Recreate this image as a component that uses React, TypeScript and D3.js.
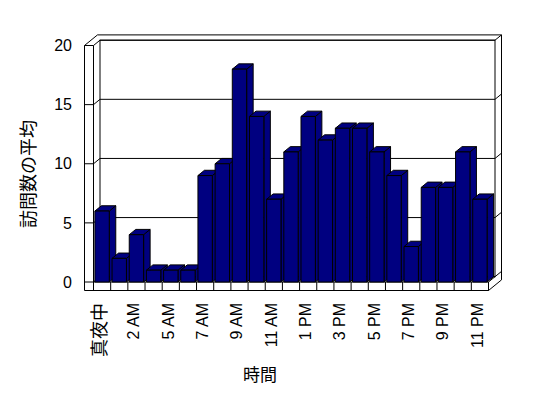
import React from "react";
import * as d3 from "d3";

const categories = ["真夜中","1 AM","2 AM","3 AM","5 AM","6 AM","7 AM","8 AM","9 AM","10 AM","11 AM","12 PM","1 PM","2 PM","3 PM","4 PM","5 PM","6 PM","7 PM","8 PM","9 PM","10 PM","11 PM"];
const values = [6,2,4,1,1,1,9,10,18,14,7,11,14,12,13,13,11,9,3,8,8,11,7];
const yTicks = [0,5,10,15,20];
const yTitle = "訪問数の平均";
const xTitle = "時間";

const W = 548, H = 398;
const L0 = 84.5, L1 = 93.5, R = 488.5;
const FB = 290.5;
const DX = 6.5, DY = -5.3;
const BAR_INSET = 1.4;
const NAVY = "#000080";
const LATIN = "'Liberation Sans', Arial, sans-serif";
const CJK = "'Noto Sans CJK JP', 'Noto Sans CJK SC', sans-serif";

export default function App() {
  const x = d3.scaleBand<string>().domain(categories).range([L1, R]).padding(0);
  const y = d3.scaleLinear().domain([0, 20]).range([282, 45.5]);
  const y0 = y(0), y20 = y(20);
  const bw = x.bandwidth() - 2 * BAR_INSET;
  const pts = (a: number[][]) => a.map(p => p.join(",")).join(" ");

  const silhouette = pts([
    [L0, FB], [L0, y20], [L0 + 2 * DX, y20 + 2 * DY], [R + 2 * DX, y20 + 2 * DY],
    [R + 2 * DX, FB + 2 * DY], [R, FB],
  ]);

  const line = (x1: number, y1: number, x2: number, y2: number, k: string) => (
    <line key={k} x1={x1} y1={y1} x2={x2} y2={y2} stroke="#000" strokeWidth={1} />
  );

  const boundaries = d3.range(categories.length + 1).map(i => L1 + i * x.step());

  return (
    <svg width={W} height={H} style={{ position: "absolute", left: 0, top: 0, background: "#fff" }}>
      <rect x={0} y={0} width={W} height={H} fill="#fff" />
      <polygon points={silhouette} fill="#fff" stroke="#000" />
      <rect x={L1 + DX} y={y20 + DY} width={R - L1} height={y0 - y20} fill="#fff" stroke="#000" />
      {yTicks.map(v => (
        <g key={"g" + v}>
          {line(L1 + DX, y(v) + DY, R + DX, y(v) + DY, "bw" + v)}
          {line(L1, y(v), L1 + DX, y(v) + DY, "lw" + v)}
          {line(L0, y(v), L1, y(v), "tk" + v)}
          {line(R + DX, y(v) + DY, R + 2 * DX, y(v) + 2 * DY, "rw" + v)}
        </g>
      ))}
      {line(L1, y20, L1, y0, "lwi")}
      {line(R, y0, R + DX, y0 + DY, "flr")}
      {line(R, y0, R, FB, "flre")}
      {line(L1, y0, R, y0, "flt")}
      {boundaries.map((bx, i) => line(bx, y0, bx, FB, "div" + i))}
      {categories.map((c, i) => {
        const xs = (x(c) as number) + BAR_INSET;
        const yt = y(values[i]);
        return (
          <g key={"bar" + i} fill={NAVY} stroke="#000" strokeWidth={1} strokeLinejoin="round">
            <polygon points={pts([[xs + bw, y0], [xs + bw + DX, y0 + DY], [xs + bw + DX, yt + DY], [xs + bw, yt]])} />
            <polygon points={pts([[xs, yt], [xs + bw, yt], [xs + bw + DX, yt + DY], [xs + DX, yt + DY]])} />
            <rect x={xs} y={yt} width={bw} height={y0 - yt} />
          </g>
        );
      })}
      {yTicks.map(v => (
        <text key={"yl" + v} x={72} y={y(v) + 5.7} textAnchor="end" fontFamily={LATIN} fontSize={16} fill="#000">{v}</text>
      ))}
      {categories.map((c, i) => {
        if (i % 2 !== 0) return null;
        const cx = (x(c) as number) + x.bandwidth() / 2 - 3;
        const isCjk = /[^\x00-\x7f]/.test(c);
        return (
          <text key={"xl" + i} transform={`translate(${cx},303) rotate(-90)`} textAnchor="end"
            dy={isCjk ? "0.38em" : "0.36em"} fontFamily={isCjk ? CJK : LATIN} fontSize={isCjk ? 18 : 16} fill="#000">{c}</text>
        );
      })}
      <text transform={`translate(28.5,174) rotate(-90)`} textAnchor="middle" dy="0.36em" fontFamily={CJK} fontSize={18} fill="#000">{yTitle}</text>
      <text x={260} y={375} textAnchor="middle" dy="0.36em" fontFamily={CJK} fontSize={17} fill="#000">{xTitle}</text>
    </svg>
  );
}
